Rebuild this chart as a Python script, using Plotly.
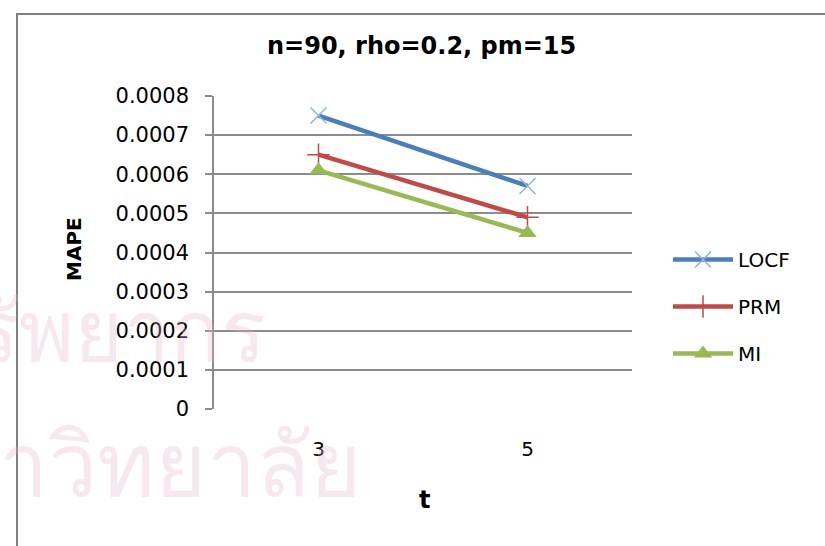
import plotly.graph_objects as go

# Missing-data imputation results: MAPE by number of time points t
t_labels = ["3", "5"]
locf = [0.00075, 0.00057]
prm = [0.00065, 0.00049]
mi = [0.00061, 0.00045]
y_ticks = [0, 0.0001, 0.0002, 0.0003, 0.0004, 0.0005, 0.0006, 0.0007, 0.0008]
y_tick_text = ["0", "0.0001", "0.0002", "0.0003", "0.0004", "0.0005", "0.0006", "0.0007", "0.0008"]

W, H = 825, 546
L, R, T, B = 214, 632, 96, 409  # plot area in pixels


def px(x):
    return (x - L) / (R - L)


def py(y):
    return (B - y) / (B - T)


FONT = "DejaVu Sans"
WM = "rgba(228,180,205,0.3)"

fig = go.Figure()
series = [
    ("LOCF", locf, "#4a7ebb", dict(symbol="x-thin", size=16, line=dict(color="#8fb2e0", width=1.5))),
    ("PRM", prm, "#be4b48", dict(symbol="cross-thin", size=16, line=dict(color="#be4b48", width=1.5))),
    ("MI", mi, "#98b954", dict(symbol="triangle-up", size=16, color="#98b954", line=dict(width=0))),
]
for name, vals, color, marker in series:
    fig.add_trace(go.Scatter(
        x=t_labels, y=vals, name=name, mode="lines+markers",
        line=dict(color=color, width=4.5), marker=marker,
        legendgroup=name,
    ))

# faint background watermark text
fig.add_annotation(text="ศูนย์วิทยทรัพยากร", xref="paper", yref="paper",
                   x=px(268), y=py(328), xanchor="right", yanchor="middle",
                   showarrow=False, font=dict(size=84, color=WM))
fig.add_annotation(text="จุฬาลงกรณ์มหาวิทยาลัย", xref="paper", yref="paper",
                   x=px(364), y=py(462), xanchor="right", yanchor="middle",
                   showarrow=False, font=dict(size=88, color=WM))

# chart title and axis titles
fig.add_annotation(text="<b>n=90, rho=0.2, pm=15</b>", xref="paper", yref="paper",
                   x=px(421), y=py(46), xanchor="center", yanchor="middle", showarrow=False,
                   font=dict(family=FONT, size=24, color="#000000"))
fig.add_annotation(text="<b>MAPE</b>", xref="paper", yref="paper",
                   x=px(74), y=py(249), xanchor="center", yanchor="middle",
                   showarrow=False, textangle=-90,
                   font=dict(family=FONT, size=20, color="#000000"))
fig.add_annotation(text="<b>t</b>", xref="paper", yref="paper",
                   x=px(424), y=py(500), xanchor="center", yanchor="middle", showarrow=False,
                   font=dict(family=FONT, size=24, color="#000000"))

# chart area border
fig.add_shape(type="rect", xref="paper", yref="paper",
              x0=px(17), x1=px(840), y0=py(560), y1=py(14),
              line=dict(color="#7f7f7f", width=2), layer="below")

fig.update_layout(
    width=W, height=H,
    margin=dict(l=L, r=W - R, t=T, b=H - B),
    paper_bgcolor="white", plot_bgcolor="rgba(0,0,0,0)",
    showlegend=True,
    legend=dict(x=px(668), y=py(240), xanchor="left", yanchor="top",
                font=dict(family=FONT, size=20, color="#000000"),
                traceorder="grouped", tracegroupgap=18,
                bgcolor="rgba(0,0,0,0)", itemwidth=60),
    xaxis=dict(type="category", range=[-0.5, 1.5], showgrid=False,
               showline=False, zeroline=False, ticks="",
               tickfont=dict(family=FONT, size=20, color="#000000"), ticklabelstandoff=26),
    yaxis=dict(range=[0, 0.0008], tickvals=y_ticks, ticktext=y_tick_text,
               showgrid=True, gridcolor="#8c8c8c", gridwidth=1.5,
               showline=True, linecolor="#8c8c8c", linewidth=1.5,
               ticks="outside", ticklen=7, tickcolor="#8c8c8c", tickwidth=1.5,
               zeroline=False, ticklabelstandoff=12,
               tickfont=dict(family=FONT, size=21, color="#000000")),
)

fig.write_html("out.html")
